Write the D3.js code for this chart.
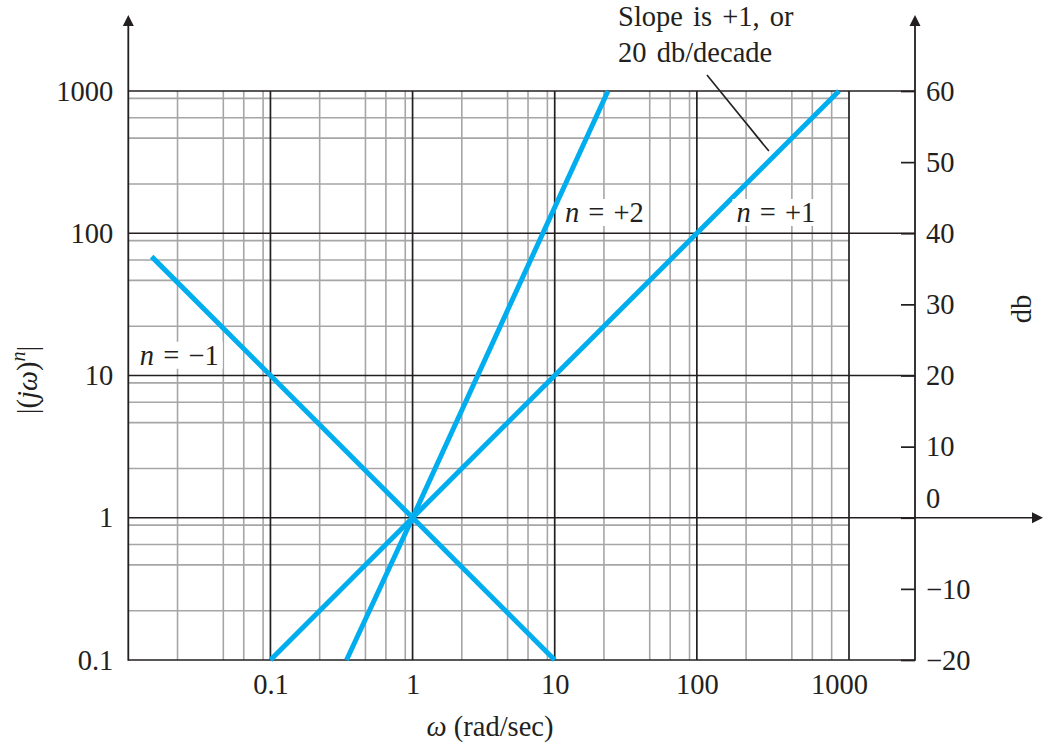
<!DOCTYPE html>
<html><head><meta charset="utf-8">
<script src="https://cdn.jsdelivr.net/npm/d3@7"></script>
<style>
body{margin:0;background:#fff}
text{font-family:"Liberation Serif","Times New Roman",serif;fill:#231f20}
</style>
</head><body>
<svg id="c" width="1051" height="750"></svg>
<script>
// ---------- data ----------
const omegaTicks = [0.1, 1, 10, 100, 1000];
const omegaTickLabels = ["0.1", "1", "10", "100", "1000"];
const magTicks = [0.1, 1, 10, 100, 1000];
const magTickLabels = ["0.1", "1", "10", "100", "1000"];
const dbTicks = [-20, -10, 0, 10, 20, 30, 40, 50, 60];
const dbTickLabels = ["\u221220", "\u221210", "0", "10", "20", "30", "40", "50", "60"];
const minorMultipliers = [2.22, 4.66, 6.49, 8.88];
const omegaDecades = [0.01, 0.1, 1, 10, 100];
const magDecades = [0.1, 1, 10, 100];
const omegaMajor = [0.1, 1, 10, 100];
const magMajor = [1000, 100, 10];
const seriesNames = ["\u22121", "+1", "+2"];
const seriesOmega = [[0.0146, 10], [0.1, 1000], [0.343, 1, 23.7]];
const seriesMag = [[68.5, 0.1], [0.1, 1000], [0.1, 1, 1000]];
const labelOmega = [0.01205, 190, 11.8];
const labelMag = [11.9, 120, 120];
const noteLines = ["Slope is +1, or", "20 db/decade"];
const noteOmega = 27.9;
const noteMag = [2864, 1600];
const leaderOmega = [117.8, 321];
const leaderMag = [1294, 378];

// ---------- layout ----------
const x0 = 128.3, x1 = 839, gridRight = 849, axisRightX = 915, arrowEndX = 1043;
const yBottom = 660, yTop = 91, axisTopY = 15;
const black = "#231f20", gray = "#a6a6a6", blue = "#00aeef";
const fs = 28.5;

const svg = d3.select("#c");
const x = d3.scaleLog().domain([0.01, 1000]).range([x0, x1]);
const y = d3.scaleLog().domain([0.1, 1000]).range([yBottom, yTop]);
const yDb = d3.scaleLinear().domain([-20, 60]).range([yBottom, yTop]);

const grid = svg.append("g");
const minorW = omegaDecades.flatMap(d => minorMultipliers.map(m => d * m));
grid.selectAll("line.mv").data(minorW).enter().append("line")
  .attr("x1", d => x(d)).attr("x2", d => x(d))
  .attr("y1", yTop).attr("y2", yBottom)
  .attr("stroke", gray).attr("stroke-width", 1.6);
const minorM = magDecades.flatMap(d => minorMultipliers.map(m => d * m));
grid.selectAll("line.mh").data(minorM).enter().append("line")
  .attr("x1", x0).attr("x2", gridRight)
  .attr("y1", d => y(d)).attr("y2", d => y(d))
  .attr("stroke", gray).attr("stroke-width", 1.6);
grid.selectAll("line.Mv").data(omegaMajor).enter().append("line")
  .attr("x1", d => x(d)).attr("x2", d => x(d))
  .attr("y1", yTop).attr("y2", yBottom)
  .attr("stroke", black).attr("stroke-width", 1.7);
grid.append("line").attr("x1", gridRight).attr("x2", gridRight)
  .attr("y1", yTop).attr("y2", yBottom).attr("stroke", black).attr("stroke-width", 1.7);
grid.selectAll("line.Mh").data(magMajor).enter().append("line")
  .attr("x1", x0).attr("x2", axisRightX)
  .attr("y1", d => y(d)).attr("y2", d => y(d))
  .attr("stroke", black).attr("stroke-width", 1.7);
grid.append("line").attr("x1", x0).attr("x2", axisRightX)
  .attr("y1", y(0.1)).attr("y2", y(0.1)).attr("stroke", black).attr("stroke-width", 1.7);
grid.append("line").attr("x1", x0).attr("x2", arrowEndX - 8)
  .attr("y1", y(1)).attr("y2", y(1)).attr("stroke", black).attr("stroke-width", 1.7);
grid.append("path")
  .attr("d", `M${arrowEndX},${y(1)} L${arrowEndX-11},${y(1)-5.5} L${arrowEndX-11},${y(1)+5.5} Z`)
  .attr("fill", black);
[x0, axisRightX].forEach(ax => {
  grid.append("line").attr("x1", ax).attr("x2", ax)
    .attr("y1", yBottom + 0.8).attr("y2", axisTopY + 8)
    .attr("stroke", black).attr("stroke-width", 1.8);
  grid.append("path")
    .attr("d", `M${ax},${axisTopY} L${ax-5.5},${axisTopY+11} L${ax+5.5},${axisTopY+11} Z`)
    .attr("fill", black);
});

// ---------- series lines ----------
const lineGen = d3.line().x(d => x(d[0])).y(d => y(d[1]));
seriesOmega.forEach((ws, i) => {
  const pts = ws.map((w, j) => [w, seriesMag[i][j]]);
  svg.append("path").attr("d", lineGen(pts))
    .attr("fill", "none").attr("stroke", blue).attr("stroke-width", 5);
});

// ---------- axes ----------
const axL = d3.axisLeft(y).tickValues(magTicks)
  .tickFormat((d, i) => magTickLabels[i]).tickSize(0).tickPadding(15);
const gL = svg.append("g").attr("transform", `translate(${x0},0)`).call(axL);
const axB = d3.axisBottom(x).tickValues(omegaTicks)
  .tickFormat((d, i) => omegaTickLabels[i]).tickSize(0).tickPadding(14);
const gB = svg.append("g").attr("transform", `translate(0,${yBottom})`).call(axB);
const axR = d3.axisRight(yDb).tickValues(dbTicks)
  .tickFormat((d, i) => dbTickLabels[i]).tickSizeInner(-14).tickSizeOuter(0).tickPadding(11);
const gR = svg.append("g").attr("transform", `translate(${axisRightX},0)`).call(axR);
[gL, gB, gR].forEach(g => {
  g.select(".domain").remove();
  g.selectAll("text").attr("font-size", fs)
    .attr("font-family", "'Liberation Serif','Times New Roman',serif").attr("fill", black);
});
gR.selectAll(".tick line").attr("stroke", black).attr("stroke-width", 1.7);
gR.selectAll(".tick").filter(d => d === 0).select("text").attr("y", -19);

// ---------- axis titles ----------
const xt = svg.append("text").attr("x", 490).attr("y", 736)
  .attr("text-anchor", "middle").attr("font-size", fs);
xt.append("tspan").attr("font-style", "italic").text("\u03c9");
xt.append("tspan").text(" (rad/sec)");

const yt = svg.append("text").attr("transform", "translate(37,380) rotate(-90)")
  .attr("text-anchor", "middle").attr("font-size", fs);
yt.append("tspan").text("|(");
yt.append("tspan").attr("font-style", "italic").text("j\u03c9");
yt.append("tspan").text(")");
yt.append("tspan").attr("font-style", "italic").attr("font-size", 20).attr("dy", -12).text("n");
yt.append("tspan").attr("dy", 12).text("|");

svg.append("text").attr("transform", "translate(1031,309) rotate(-90)")
  .attr("text-anchor", "middle").attr("font-size", fs).text("db");

// ---------- series labels ----------
seriesNames.forEach((nm, i) => {
  const g = svg.append("g");
  const t = g.append("text").attr("x", x(labelOmega[i])).attr("y", y(labelMag[i]))
    .attr("font-size", fs).attr("word-spacing", 2);
  t.append("tspan").attr("font-style", "italic").text("n");
  t.append("tspan").text(" = " + nm);
  const bb = t.node().getBBox();
  g.insert("rect", "text").attr("x", bb.x - 4).attr("y", bb.y + 2)
    .attr("width", bb.width + 8).attr("height", bb.height - 4).attr("fill", "#fff");
});

// ---------- annotation ----------
noteLines.forEach((s, i) => {
  svg.append("text").attr("x", x(noteOmega)).attr("y", y(noteMag[i]))
    .attr("font-size", fs).attr("word-spacing", 3).text(s);
});
svg.append("line")
  .attr("x1", x(leaderOmega[0])).attr("y1", y(leaderMag[0]))
  .attr("x2", x(leaderOmega[1])).attr("y2", y(leaderMag[1]))
  .attr("stroke", black).attr("stroke-width", 1.6);
</script>
</body></html>
